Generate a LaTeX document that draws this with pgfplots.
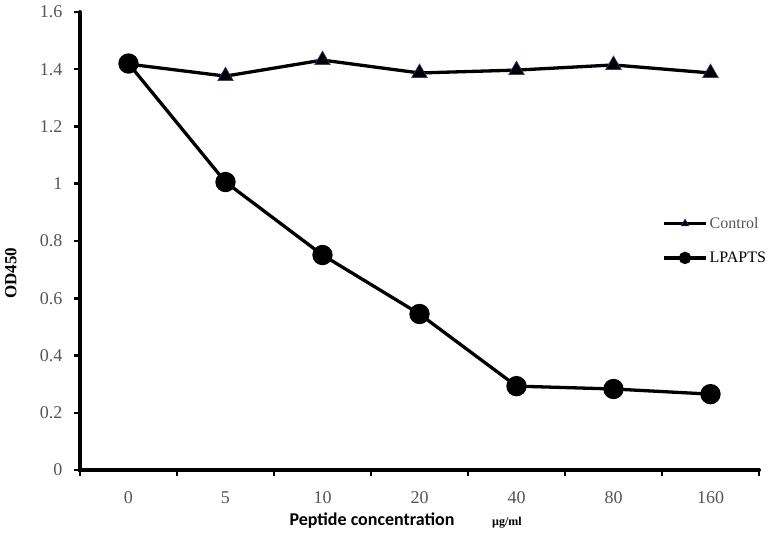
\documentclass[border=0pt]{standalone}
\usepackage{pgfplots}
\pgfplotsset{compat=1.18}
\usepackage{fontspec}
\setmainfont{Liberation Serif}
\newfontfamily\calib{Carlito}
\definecolor{ticktext}{HTML}{555555}
\definecolor{mkedge}{HTML}{3A3A80}
\begin{document}
\begin{tikzpicture}
\begin{axis}[
  anchor=south west, at={(0pt,0pt)},
  scale only axis, width=679pt, height=458pt,
  xmin=-0.5, xmax=6.5, ymin=0, ymax=1.6,
  axis x line=bottom, axis y line=left,
  axis line style={-, line width=3pt},
  xtick={0,...,6},
  xticklabels={0,5,10,20,40,80,160},
  minor xtick={-0.5,0.5,...,6.5},
  major x tick style={draw=none},
  tick style={line width=2.5pt, black},
  minor tick length=6pt,
  ytick={0,0.2,...,1.6},
  yticklabels={0,0.2,0.4,0.6,0.8,1,1.2,1.4,1.6},
  major tick length=6pt,
  tick align=outside,
  ticklabel style={font=\fontsize{18}{20}\selectfont, text=ticktext},
  xticklabel style={yshift=-12pt},
  yticklabel style={xshift=-8pt},
  ylabel={\textbf{OD450}},
  ylabel style={font=\fontsize{17}{19}\selectfont, at={(-60pt,0.43)}},
  legend style={at={(0.853,0.561)}, anchor=north west, draw=none, fill=none,
    font=\fontsize{16}{18}\selectfont, text=ticktext, row sep=18pt,
    /tikz/every even column/.append style={column sep=0pt}},
  legend cell align=left,
  legend image code/.code={
    \draw[#1, mark=none] (0pt,0pt) -- (42pt,0pt);
    \draw[#1, mark size=4.5pt] plot coordinates {(21pt,0pt)};
  },
  clip=false,
]
\draw[line width=4pt, line cap=round] (axis description cs:0,1) -- (axis description cs:0,0) -- (axis description cs:1,0);
\addplot[black, line width=3.3pt, mark=triangle*, mark size=9pt,
  mark options={fill=black, draw=mkedge, line width=0.6pt, solid}]
  coordinates {(0,1.418)(1,1.376)(2,1.432)(3,1.387)(4,1.397)(5,1.415)(6,1.387)};
\addlegendentry{Control}
\addplot[black, line width=3.3pt, mark=*, mark size=8.5pt,
  mark options={fill=black, draw=black, solid}]
  coordinates {(0,1.42)(1,1.006)(2,0.751)(3,0.545)(4,0.293)(5,0.283)(6,0.265)};
\addlegendentry{\textcolor{black}{LPAPTS}}
\end{axis}
\node[anchor=base, font=\calib\bfseries\fontsize{18}{20}\selectfont] at (292pt,-55pt) {Peptide concentration};
\node[anchor=base, font=\bfseries\fontsize{12}{14}\selectfont] at (427pt,-55pt) {µg/ml};
\path (-80pt,-68pt) rectangle (695pt,470pt);
\end{tikzpicture}
\end{document}
